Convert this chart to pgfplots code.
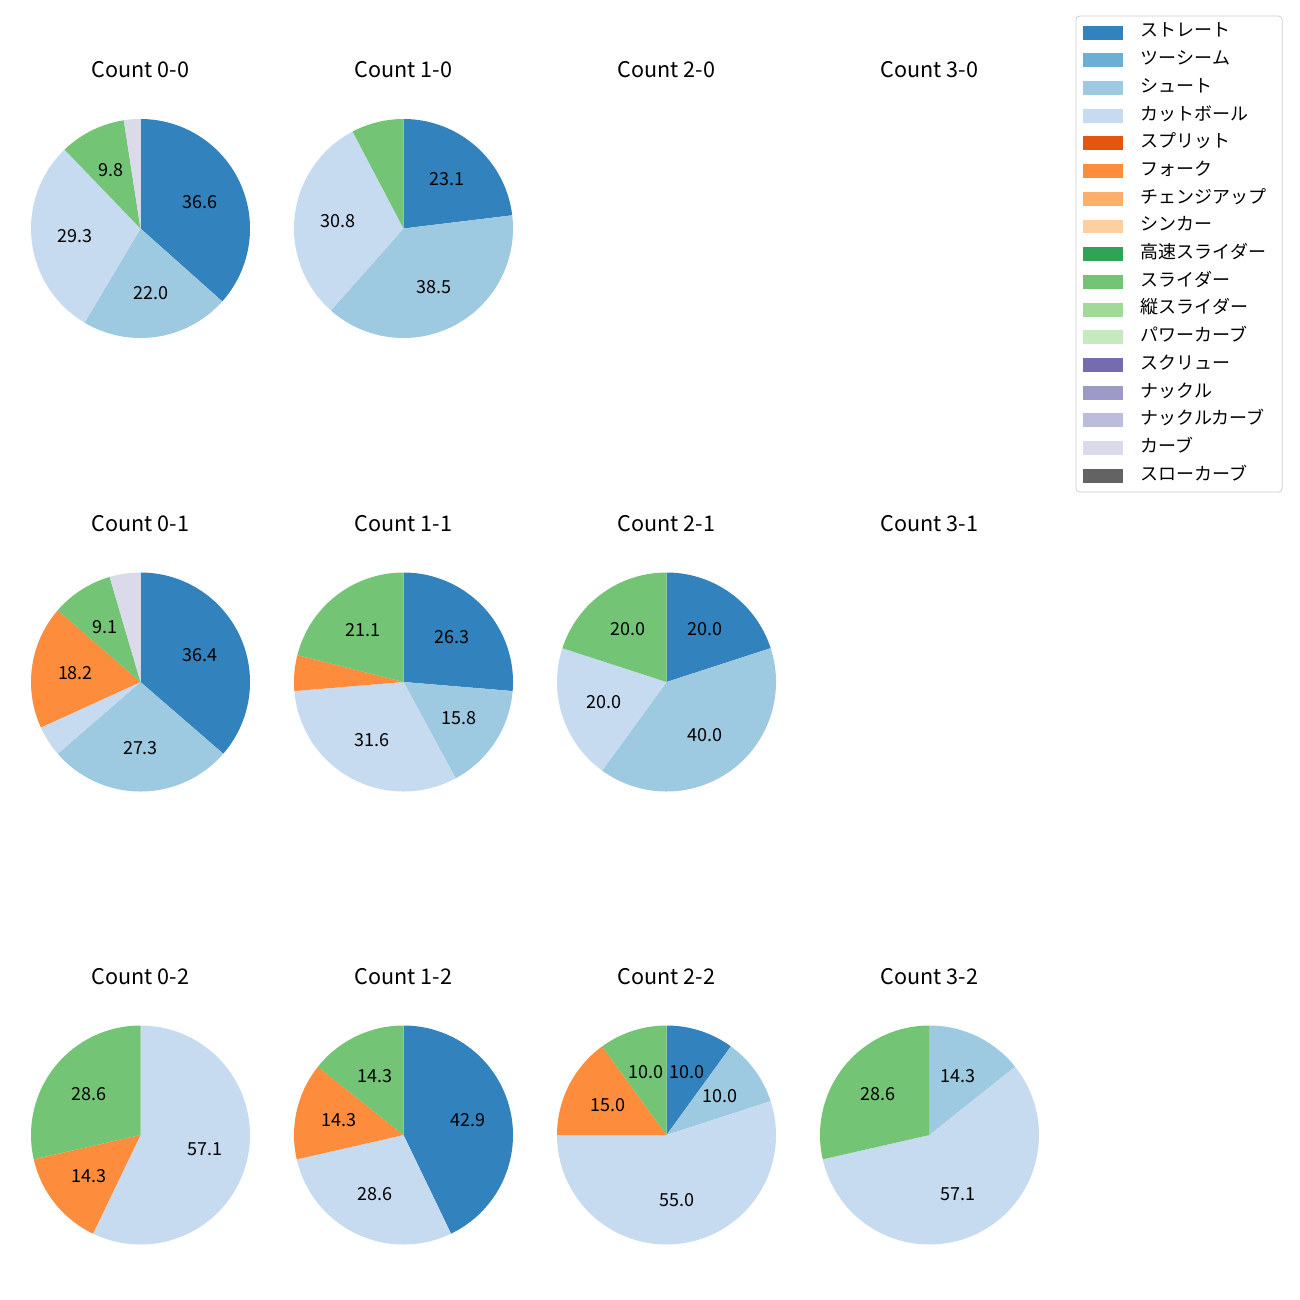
\documentclass[border=0pt]{standalone}
\usepackage{fontspec}
\setmainfont{Noto Sans CJK JP}
\usepackage{pgfplots}
\pgfplotsset{compat=1.18}

\definecolor{c1}{HTML}{3182BD}
\definecolor{c2}{HTML}{6BAED6}
\definecolor{c3}{HTML}{9ECAE1}
\definecolor{c4}{HTML}{C6DBEF}
\definecolor{c5}{HTML}{E6550D}
\definecolor{c6}{HTML}{FD8D3C}
\definecolor{c7}{HTML}{FDAE6B}
\definecolor{c8}{HTML}{FDD0A2}
\definecolor{c9}{HTML}{31A354}
\definecolor{c10}{HTML}{74C476}
\definecolor{c11}{HTML}{A1D99B}
\definecolor{c12}{HTML}{C7E9C0}
\definecolor{c13}{HTML}{756BB1}
\definecolor{c14}{HTML}{9E9AC8}
\definecolor{c15}{HTML}{BCBDDC}
\definecolor{c16}{HTML}{DADAEB}
\definecolor{c17}{HTML}{636363}

\tikzset{plab/.style={font=\fontsize{10}{12}\selectfont, inner sep=0pt}}
\def\nolab{-}

% #1 total count, #2 list count/color/label
\newcommand\pie[2]{%
  \gdef\cum{0}%
  \foreach \v/\col/\lab in {#2} {%
    \pgfmathsetmacro\sa{90-360*\cum/#1}%
    \pgfmathsetmacro\ea{90-360*(\cum+\v)/#1}%
    \edef\tmp{\noexpand\addplot[draw=none, fill=\col, domain=\ea:\sa, samples=90] ({cos(x)},{sin(x)}) -- (axis cs:0,0) -- cycle;}%
    \tmp
    \pgfmathsetmacro\nc{\cum+\v}\xdef\cum{\nc}%
  }%
  \gdef\cum{0}%
  \foreach \v/\col/\lab in {#2} {%
    \pgfmathsetmacro\sa{90-360*\cum/#1}%
    \pgfmathsetmacro\ea{90-360*(\cum+\v)/#1}%
    \pgfmathsetmacro\ma{(\sa+\ea)/2}%
    \pgfmathsetmacro\lx{0.6*cos(\ma)}%
    \pgfmathsetmacro\ly{0.6*sin(\ma)}%
    \ifx\lab\nolab\else
      \edef\tmp{\noexpand\node[plab] at (axis cs:\lx,\ly) {\lab};}%
      \tmp
    \fi
    \pgfmathsetmacro\nc{\cum+\v}\xdef\cum{\nc}%
  }%
}

\pgfplotsset{pieax/.style={hide axis, scale only axis, width=121.75pt, height=121.75pt,
  xmin=-1, xmax=1, ymin=-1, ymax=1, clip=false, anchor=center,
  title style={at={(0.5,1)}, anchor=base, yshift=16.9pt, inner sep=0pt, font=\fontsize{12}{14}\selectfont}}}

\begin{document}
\begin{tikzpicture}
\path[use as bounding box] (0,0) rectangle (722.7pt,-722.7pt);

% Row 0
\begin{axis}[pieax, at={(78.11pt,-127.03pt)}, title={Count 0-0}]
\pie{41}{15/c1/36.6, 9/c3/22.0, 12/c4/29.3, 4/c10/9.8, 1/c16/-}
\end{axis}
\begin{axis}[pieax, at={(224.32pt,-127.03pt)}, title={Count 1-0}]
\pie{13}{3/c1/23.1, 5/c3/38.5, 4/c4/30.8, 1/c10/-}
\end{axis}
\begin{axis}[pieax, at={(370.53pt,-127.03pt)}, title={Count 2-0}]
\end{axis}
\begin{axis}[pieax, at={(516.73pt,-127.03pt)}, title={Count 3-0}]
\end{axis}

% Row 1
\begin{axis}[pieax, at={(78.11pt,-379.14pt)}, title={Count 0-1}]
\pie{22}{8/c1/36.4, 6/c3/27.3, 1/c4/-, 4/c6/18.2, 2/c10/9.1, 1/c16/-}
\end{axis}
\begin{axis}[pieax, at={(224.32pt,-379.14pt)}, title={Count 1-1}]
\pie{19}{5/c1/26.3, 3/c3/15.8, 6/c4/31.6, 1/c6/-, 4/c10/21.1}
\end{axis}
\begin{axis}[pieax, at={(370.53pt,-379.14pt)}, title={Count 2-1}]
\pie{5}{1/c1/20.0, 2/c3/40.0, 1/c4/20.0, 1/c10/20.0}
\end{axis}
\begin{axis}[pieax, at={(516.73pt,-379.14pt)}, title={Count 3-1}]
\end{axis}

% Row 2
\begin{axis}[pieax, at={(78.11pt,-630.97pt)}, title={Count 0-2}]
\pie{7}{4/c4/57.1, 1/c6/14.3, 2/c10/28.6}
\end{axis}
\begin{axis}[pieax, at={(224.32pt,-630.97pt)}, title={Count 1-2}]
\pie{7}{3/c1/42.9, 2/c4/28.6, 1/c6/14.3, 1/c10/14.3}
\end{axis}
\begin{axis}[pieax, at={(370.53pt,-630.97pt)}, title={Count 2-2}]
\pie{20}{2/c1/10.0, 2/c3/10.0, 11/c4/55.0, 3/c6/15.0, 2/c10/10.0}
\end{axis}
\begin{axis}[pieax, at={(516.73pt,-630.97pt)}, title={Count 3-2}]
\pie{7}{1/c3/14.3, 4/c4/57.1, 2/c10/28.6}
\end{axis}

% Legend
\begin{axis}[hide axis, scale only axis, width=1pt, height=1pt, xmin=0, xmax=1, ymin=0, ymax=1,
  anchor=north east, at={(712.97pt,-8.73pt)},
  legend cell align=left,
  legend image code/.code={\fill[#1, sharp corners] (0pt,-3.6pt) rectangle (21.5pt,3.6pt);},
  legend style={at={(1,1)}, anchor=north east, draw=black!20, rounded corners=2pt, fill=white,
    inner xsep=4pt, inner ysep=4.6pt, row sep=6.4pt,
    font=\fontsize{10}{12}\selectfont,
    nodes={inner sep=0pt, text height=7pt, text depth=2pt},
    /tikz/every odd column/.append style={column sep=10.2pt},
    /tikz/every even column/.append style={nodes={text width=74.5pt}}}]
\addlegendimage{c1}\addlegendentry{ストレート}
\addlegendimage{c2}\addlegendentry{ツーシーム}
\addlegendimage{c3}\addlegendentry{シュート}
\addlegendimage{c4}\addlegendentry{カットボール}
\addlegendimage{c5}\addlegendentry{スプリット}
\addlegendimage{c6}\addlegendentry{フォーク}
\addlegendimage{c7}\addlegendentry{チェンジアップ}
\addlegendimage{c8}\addlegendentry{シンカー}
\addlegendimage{c9}\addlegendentry{高速スライダー}
\addlegendimage{c10}\addlegendentry{スライダー}
\addlegendimage{c11}\addlegendentry{縦スライダー}
\addlegendimage{c12}\addlegendentry{パワーカーブ}
\addlegendimage{c13}\addlegendentry{スクリュー}
\addlegendimage{c14}\addlegendentry{ナックル}
\addlegendimage{c15}\addlegendentry{ナックルカーブ}
\addlegendimage{c16}\addlegendentry{カーブ}
\addlegendimage{c17}\addlegendentry{スローカーブ}
\end{axis}
\end{tikzpicture}
\end{document}
